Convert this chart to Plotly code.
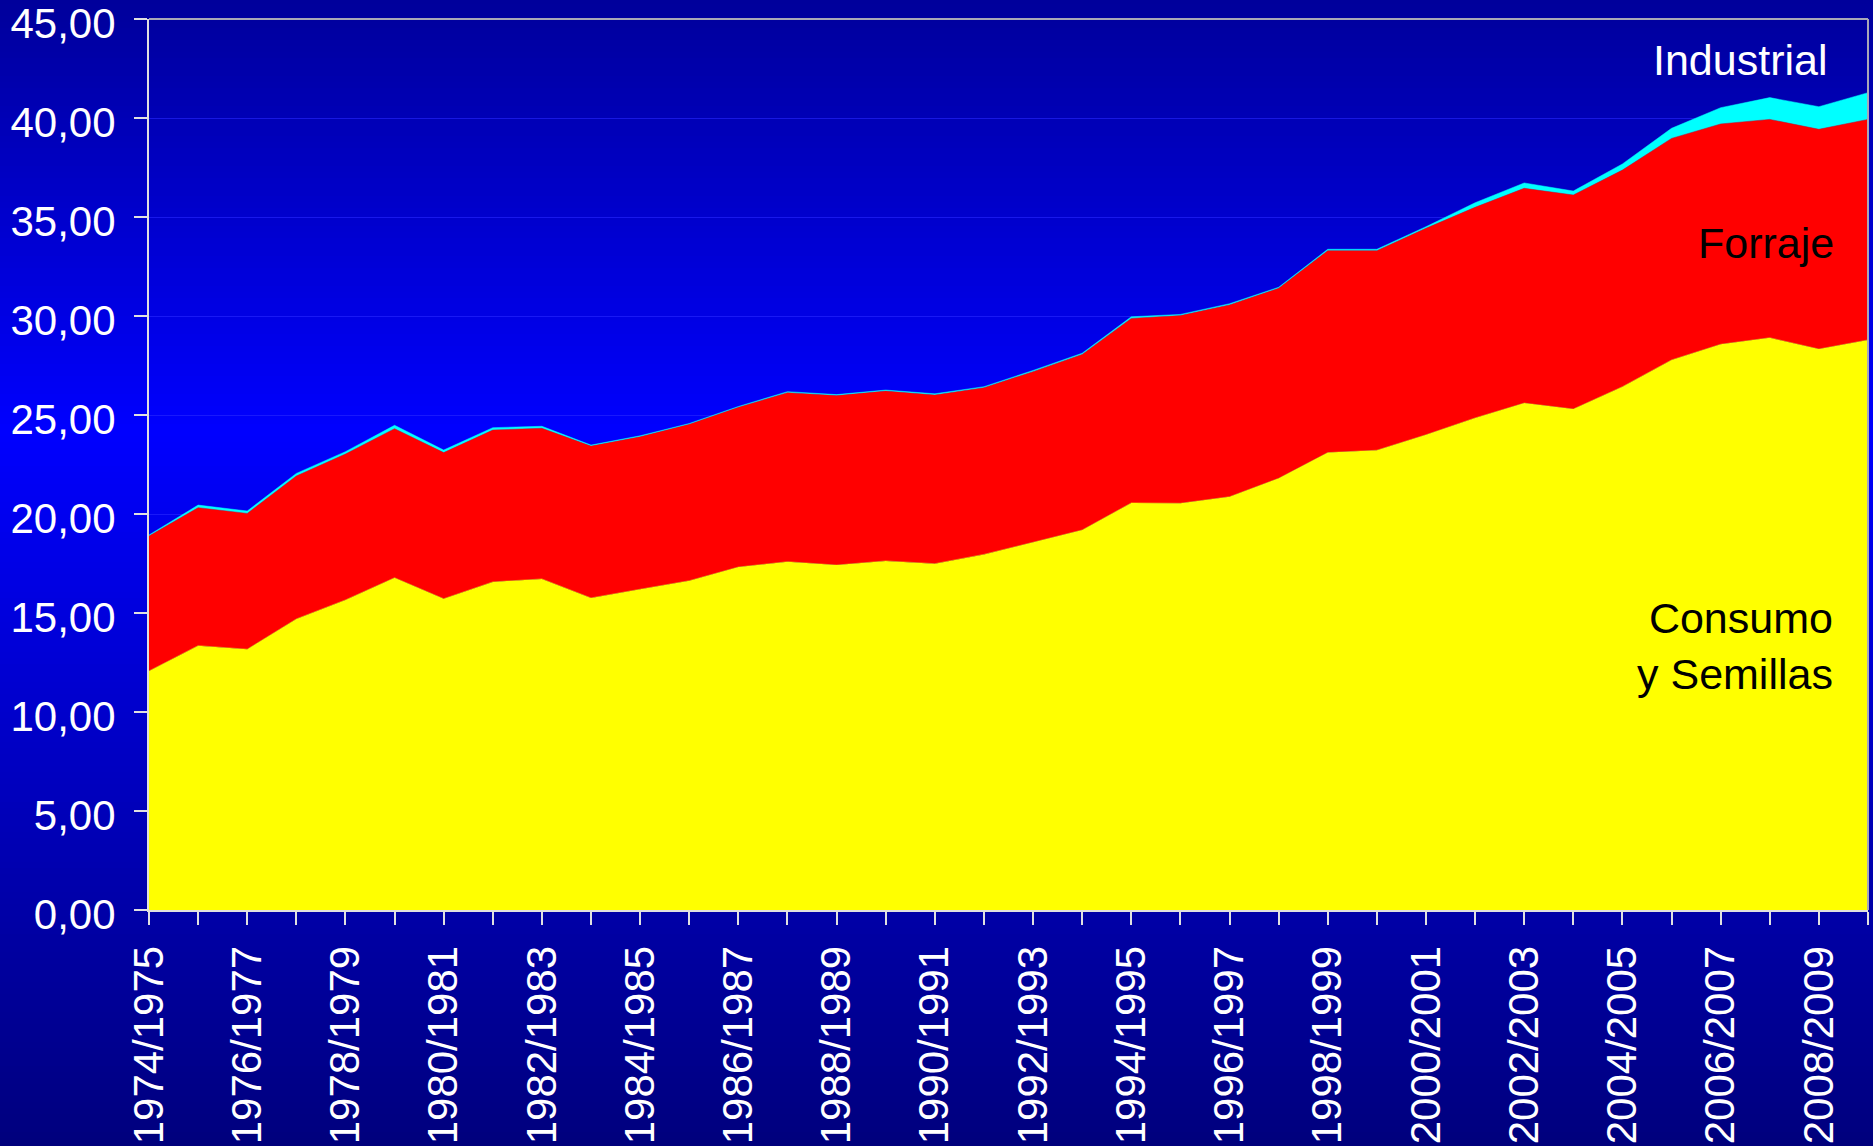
import plotly.graph_objects as go

# campañas (eje X)
campanas = [
    "1974/1975", "1975/1976", "1976/1977", "1977/1978", "1978/1979", "1979/1980",
    "1980/1981", "1981/1982", "1982/1983", "1983/1984", "1984/1985", "1985/1986",
    "1986/1987", "1987/1988", "1988/1989", "1989/1990", "1990/1991", "1991/1992",
    "1992/1993", "1993/1994", "1994/1995", "1995/1996", "1996/1997", "1997/1998",
    "1998/1999", "1999/2000", "2000/2001", "2001/2002", "2002/2003", "2003/2004",
    "2004/2005", "2005/2006", "2006/2007", "2007/2008", "2008/2009", "2009/2010",
]

consumo = [
    12.07, 13.35, 13.17, 14.70, 15.66, 16.78, 15.72, 16.57, 16.72, 15.76, 16.20, 16.63,
    17.32, 17.59, 17.42, 17.63, 17.49, 17.96, 18.57, 19.19, 20.56, 20.54, 20.87, 21.80,
    23.10, 23.22, 24.00, 24.85, 25.60, 25.30, 26.43, 27.78, 28.57, 28.90, 28.33, 28.79,
]
forraje = [
    6.82, 6.97, 6.86, 7.22, 7.37, 7.53, 7.38, 7.67, 7.61, 7.67, 7.70, 7.90,
    8.07, 8.54, 8.56, 8.58, 8.52, 8.42, 8.62, 8.87, 9.32, 9.48, 9.69, 9.60,
    10.20, 10.08, 10.43, 10.64, 10.85, 10.81, 10.94, 11.19, 11.13, 11.03, 11.10, 11.14,
]
industrial = [
    0.05, 0.13, 0.12, 0.13, 0.12, 0.17, 0.13, 0.12, 0.10, 0.05, 0.05, 0.04,
    0.04, 0.05, 0.05, 0.05, 0.06, 0.05, 0.06, 0.06, 0.08, 0.06, 0.06, 0.05,
    0.07, 0.07, 0.08, 0.23, 0.27, 0.20, 0.31, 0.51, 0.82, 1.10, 1.14, 1.35,
]

# solo se rotula una campaña de cada dos
etiquetas = [c if i % 2 == 0 else "" for i, c in enumerate(campanas)]

W, H = 1873, 1146
# área del gráfico en px
X0, X1, Y0, Y1 = 149, 1868, 19, 910
plot_w, plot_h = X1 - X0, Y1 - Y0

fig = go.Figure()

series = [
    ("Consumo y Semillas", consumo, "#FFFF00"),
    ("Forraje", forraje, "#FF0000"),
    ("Industrial", industrial, "#00FFFF"),
]
for nombre, valores, color in series:
    fig.add_trace(go.Scatter(
        x=campanas, y=valores, name=nombre,
        mode="lines", stackgroup="uno",
        line=dict(width=0.5, color=color),
        fillcolor=color,
    ))


def px_x(p):
    return (p - X0) / plot_w


def px_y(p):
    return (Y1 - p) / plot_h


# fondo degradado azul (bandas horizontales)
def azul(py):
    if py <= 430:
        b = 155 + (255 - 155) * py / 430
    else:
        b = 255 - (255 - 125) * (py - 430) / (H - 430)
    return f"rgb(0,0,{int(b)})"


shapes = []
paso = 6
for py in range(-20, H + 20, paso):
    shapes.append(dict(
        type="rect", xref="paper", yref="paper",
        x0=px_x(-30), x1=px_x(W + 30),
        y0=px_y(py + paso + 1), y1=px_y(py),
        fillcolor=azul(py + paso / 2), line=dict(width=0), layer="below",
    ))

# borde superior y derecho en gris
for x0, y0, x1, y1 in [(0, 1, 1, 1), (1, 0, 1, 1)]:
    shapes.append(dict(
        type="line", xref="paper", yref="paper", x0=x0, y0=y0, x1=x1, y1=y1,
        line=dict(color="#A8A8B8", width=2), layer="above",
    ))

fuente = "Liberation Sans, Arial, sans-serif"
annotations = [
    dict(text="Industrial", x=px_x(1829), y=px_y(60), xanchor="right", yanchor="middle",
         font=dict(size=43, color="white", family=fuente)),
    dict(text="Forraje", x=px_x(1836), y=px_y(243), xanchor="right", yanchor="middle",
         font=dict(size=43, color="black", family=fuente)),
    dict(text="Consumo<br>y Semillas", x=px_x(1835), y=px_y(646), xanchor="right",
         yanchor="middle", align="right",
         font=dict(size=43, color="black", family=fuente)),
]
for a in annotations:
    a.update(xref="paper", yref="paper", showarrow=False)

fig.update_layout(
    width=W, height=H,
    margin=dict(l=X0, r=W - X1, t=Y0, b=H - Y1, pad=0),
    paper_bgcolor="#0000A0",
    plot_bgcolor="rgba(0,0,0,0)",
    showlegend=False,
    separators=",.",
    font=dict(family=fuente, color="white"),
    shapes=shapes,
    annotations=annotations,
)
fig.update_xaxes(
    type="category", automargin=False,
    range=[0, len(campanas) - 1],
    tickmode="array", tickvals=campanas, ticktext=etiquetas,
    tickangle=-90, tickfont=dict(size=42, color="white"),
    ticks="outside", ticklen=13, tickcolor="#E0E0E0", tickwidth=2,
    ticklabelstandoff=4,
    showline=True, linecolor="#E0E0E0", linewidth=2,
    showgrid=False, zeroline=False,
)
fig.update_yaxes(
    automargin=False,
    range=[0, 45], dtick=5, tickformat=".2f",
    tickfont=dict(size=42, color="white"),
    ticks="outside", ticklen=13, tickcolor="#E0E0E0", tickwidth=2,
    ticklabelstandoff=10, ticklabelshift=4, ticklabeloverflow="allow",
    showline=True, linecolor="#E0E0E0", linewidth=2,
    showgrid=True, gridcolor="rgba(40,40,255,0.6)", gridwidth=1,
    zeroline=False,
)

# la página sin margen para que el gráfico ocupe toda la ventana
fig.write_html(
    "out.html",
    config={"displayModeBar": False},
    post_script="document.body.style.margin='0';document.body.style.background='#0000A0';",
)
